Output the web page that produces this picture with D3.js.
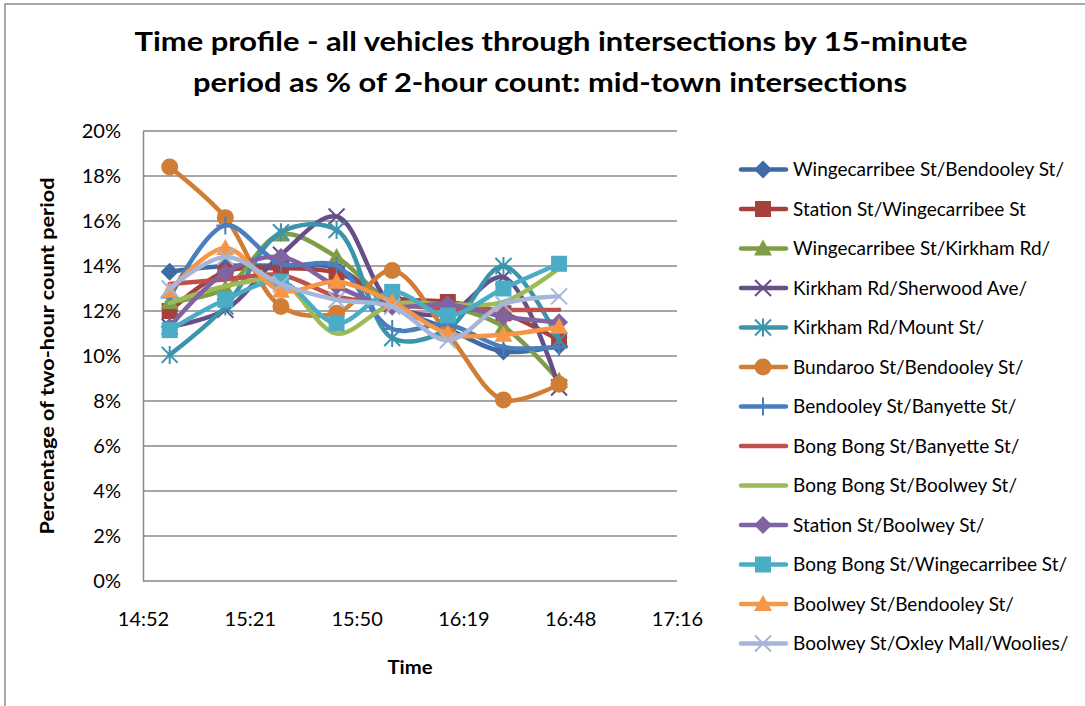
<!DOCTYPE html>
<html>
<head>
<meta charset="utf-8">
<script src="https://cdnjs.cloudflare.com/ajax/libs/d3/7.8.5/d3.min.js"></script>
<style>
    body { margin: 0; background: #fff; }
    svg text { font-family: Lato, "Open Sans", sans-serif; fill: #000; }
</style>
</head>
<body>
<svg id="chart" width="1085" height="706"></svg>
<script>
    // 15-minute periods
    var times = ["15:00", "15:15", "15:30", "15:45", "16:00", "16:15", "16:30", "16:45"];

    var seriesNames = [
        "Wingecarribee St/Bendooley St/",
        "Station St/Wingecarribee St",
        "Wingecarribee St/Kirkham Rd/",
        "Kirkham Rd/Sherwood Ave/",
        "Kirkham Rd/Mount St/",
        "Bundaroo St/Bendooley St/",
        "Bendooley St/Banyette St/",
        "Bong Bong St/Banyette St/",
        "Bong Bong St/Boolwey St/",
        "Station St/Boolwey St/",
        "Bong Bong St/Wingecarribee St/",
        "Boolwey St/Bendooley St/",
        "Boolwey St/Oxley Mall/Woolies/"
    ];

    // % of 2-hour count, one array per intersection
    var wingBend    = [13.75, 14.0, 14.0, 13.9, 12.2, 11.2, 10.2, 10.45];
    var stationWing = [12.0, 13.75, 13.9, 13.7, 12.6, 12.4, 11.9, 10.7];
    var wingKirk    = [12.4, 13.0, 15.4, 14.4, 12.4, 12.2, 11.3, 8.9];
    var kirkSher    = [11.3, 12.05, 14.5, 16.2, 12.3, 11.9, 13.5, 8.6];
    var kirkMount   = [10.05, 12.2, 15.5, 15.6, 10.8, 11.2, 14.0, 10.7];
    var bundBend    = [18.4, 16.15, 12.2, 11.9, 13.8, 11.0, 8.05, 8.75];
    var bendBany    = [12.6, 15.8, 14.1, 14.0, 11.2, 11.4, 10.4, 10.4];
    var bongBany    = [13.2, 13.4, 13.6, 12.65, 12.3, 12.1, 12.05, 12.05];
    var bongBool    = [12.35, 13.1, 13.3, 11.0, 12.3, 12.3, 12.4, 13.9];
    var stationBool = [11.3, 13.7, 14.4, 13.1, 12.2, 12.3, 11.75, 11.5];
    var bongWing    = [11.15, 12.5, 13.3, 11.45, 12.85, 11.8, 13.0, 14.1];
    var boolBend    = [12.9, 14.8, 12.9, 13.3, 12.4, 11.0, 10.95, 11.3];
    var boolOxley   = [13.0, 14.4, 13.2, 12.5, 12.2, 10.7, 12.3, 12.65];

    var seriesValues = [wingBend, stationWing, wingKirk, kirkSher, kirkMount, bundBend,
        bendBany, bongBany, bongBool, stationBool, bongWing, boolBend, boolOxley];

    var seriesColors = ["#3F6BA5", "#A5403C", "#7F9D46", "#664F88", "#3A95AC", "#D07D36",
        "#4A7EBF", "#C0504D", "#9BBB59", "#8064A2", "#4BACC6", "#F79646", "#A5B6D8"];

    var seriesMarkers = ["diamond", "square", "triangle", "x", "star", "circle",
        "plus", "none", "none", "diamond", "square", "triangle", "x"];

    var tickLabels = ["14:52", "15:21", "15:50", "16:19", "16:48", "17:16"];
    var yTicks = [0, 2, 4, 6, 8, 10, 12, 14, 16, 18, 20];

    var svg = d3.select("#chart"),
        plotLeft = 143, plotRight = 677, plotTop = 131, plotBottom = 581;

    var parseTime = d3.timeParse("%H:%M:%S");
    var start = parseTime("14:52:48"), end = parseTime("17:16:48");
    var step = (end - start) / (tickLabels.length - 1);
    var tickDates = tickLabels.map(function (d, i) { return new Date(+start + i * step); });

    var x = d3.scaleTime().domain([start, end]).range([plotLeft, plotRight]);
    var y = d3.scaleLinear().domain([0, 20]).range([plotBottom, plotTop]);

    // outer chart border (runs off the right and bottom edge)
    svg.append("rect")
        .attr("x", 5).attr("y", 4)
        .attr("width", 1200).attr("height", 800)
        .style("fill", "none")
        .style("stroke", "#8c8c8c")
        .style("stroke-width", 1.5);

    // title
    var title = svg.append("g").style("font-weight", "bold").style("font-size", "26px");
    title.append("text")
        .attr("x", 551).attr("y", 51)
        .attr("text-anchor", "middle")
        .attr("textLength", 833).attr("lengthAdjust", "spacingAndGlyphs")
        .text("Time profile - all vehicles through intersections by 15-minute");
    title.append("text")
        .attr("x", 550).attr("y", 92)
        .attr("text-anchor", "middle")
        .attr("textLength", 714).attr("lengthAdjust", "spacingAndGlyphs")
        .text("period as % of 2-hour count: mid-town intersections");

    // gridlines
    svg.append("g")
        .selectAll("line")
        .data(yTicks)
        .enter()
        .append("line")
        .attr("x1", plotLeft).attr("x2", plotRight)
        .attr("y1", function (d) { return y(d); })
        .attr("y2", function (d) { return y(d); })
        .style("stroke", "#888")
        .style("stroke-width", 1.5);

    var yAxis = svg.append("g")
        .attr("transform", "translate(" + plotLeft + ",0)")
        .call(d3.axisLeft(y).tickValues(yTicks).tickSize(0).tickPadding(22)
            .tickFormat(function (d) { return d + "%"; }));
    yAxis.select(".domain").style("stroke", "#888").style("stroke-width", 1.5);
    yAxis.selectAll("text").style("font-size", "20px").style("font-family", "Lato, sans-serif");

    var xAxis = svg.append("g")
        .attr("transform", "translate(0," + plotBottom + ")")
        .call(d3.axisBottom(x).tickValues(tickDates).tickSize(0).tickPadding(31)
            .tickFormat(function (d, i) { return tickLabels[i]; }));
    xAxis.select(".domain").remove();
    xAxis.selectAll("text").style("font-size", "20px").style("font-family", "Lato, sans-serif");

    // axis titles
    svg.append("text")
        .attr("x", (plotLeft + plotRight) / 2).attr("y", 674)
        .attr("text-anchor", "middle")
        .attr("textLength", 45).attr("lengthAdjust", "spacingAndGlyphs")
        .style("font-weight", "bold").style("font-size", "19px")
        .text("Time");
    svg.append("text")
        .attr("transform", "translate(54," + (plotTop + plotBottom) / 2 + ") rotate(-90)")
        .attr("text-anchor", "middle")
        .attr("textLength", 357).attr("lengthAdjust", "spacingAndGlyphs")
        .style("font-weight", "bold").style("font-size", "19px")
        .text("Percentage of two-hour count period");

    function drawMarker(g, type, color) {
        if (type == "diamond") {
            g.append("path").attr("d", "M0,-9L9,0L0,9L-9,0Z").style("fill", color);
        } else if (type == "square") {
            g.append("rect").attr("x", -8).attr("y", -8).attr("width", 16).attr("height", 16).style("fill", color);
        } else if (type == "triangle") {
            g.append("path").attr("d", "M0,-9L9,7L-9,7Z").style("fill", color);
        } else if (type == "circle") {
            g.append("circle").attr("r", 8.5).style("fill", color);
        } else if (type == "x") {
            g.append("path").attr("d", "M-8,-8L8,8M-8,8L8,-8")
                .style("stroke", color).style("stroke-width", 2).style("fill", "none");
        } else if (type == "star") {
            g.append("path").attr("d", "M-8,-8L8,8M-8,8L8,-8M0,-9L0,9")
                .style("stroke", color).style("stroke-width", 2).style("fill", "none");
        } else if (type == "plus") {
            g.append("path").attr("d", "M0,-9L0,9M-9,0L9,0")
                .style("stroke", color).style("stroke-width", 2).style("fill", "none");
        }
    }

    var line = d3.line()
        .x(function (d) { return x(d.t); })
        .y(function (d) { return y(d.v); })
        .curve(d3.curveCatmullRom.alpha(0.5));

    var series = seriesNames.map(function (name, i) {
        return {
            name: name,
            color: seriesColors[i],
            marker: seriesMarkers[i],
            points: times.map(function (t, j) {
                return { t: parseTime(t + ":00"), v: seriesValues[i][j] };
            })
        };
    });

    var plot = svg.append("g");
    series.forEach(function (s) {
        var g = plot.append("g");
        g.append("path")
            .attr("d", line(s.points))
            .style("fill", "none")
            .style("stroke", s.color)
            .style("stroke-width", 4.5)
            .style("stroke-linecap", "round");
        s.points.forEach(function (p) {
            var m = g.append("g").attr("transform", "translate(" + x(p.t) + "," + y(p.v) + ")");
            drawMarker(m, s.marker, s.color);
        });
    });

    // legend
    var legend = svg.append("g");
    series.forEach(function (s, i) {
        var ly = 169.5 + i * 39.5;
        var item = legend.append("g").attr("transform", "translate(0," + ly + ")");
        item.append("line")
            .attr("x1", 741).attr("x2", 786)
            .style("stroke", s.color)
            .style("stroke-width", 4.5)
            .style("stroke-linecap", "round");
        var m = item.append("g").attr("transform", "translate(763,0)");
        drawMarker(m, s.marker, s.color);
        item.append("text")
            .attr("x", 793).attr("y", 6.5)
            .style("font-size", "19px")
            .text(s.name);
    });
</script>
</body>
</html>
